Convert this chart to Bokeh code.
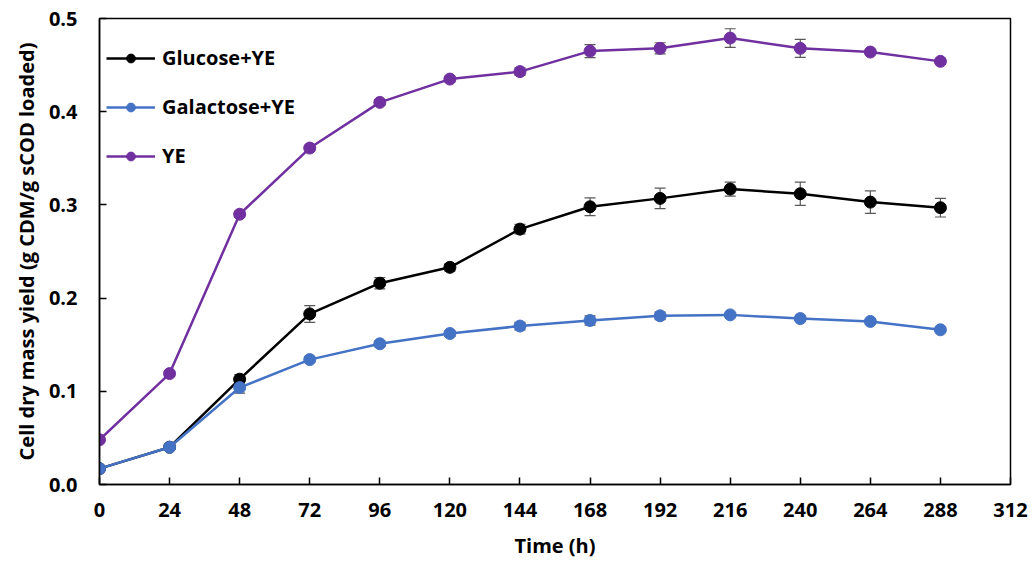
from bokeh.plotting import figure
from bokeh.models import ColumnDataSource, Whisker, TeeHead, Legend, LegendItem, FixedTicker, Range1d, CustomJSTickFormatter
from bokeh.embed import file_html
from bokeh.resources import INLINE

time_h = [0, 24, 48, 72, 96, 120, 144, 168, 192, 216, 240, 264, 288]
glucose_ye = [0.017, 0.040, 0.113, 0.183, 0.216, 0.233, 0.274, 0.298, 0.307, 0.317, 0.312, 0.303, 0.297]
glucose_err = [0.002, 0.003, 0.005, 0.009, 0.006, 0.004, 0.005, 0.0095, 0.011, 0.0075, 0.0125, 0.012, 0.010]
galactose_ye = [0.017, 0.040, 0.104, 0.134, 0.151, 0.162, 0.170, 0.176, 0.181, 0.182, 0.178, 0.175, 0.166]
galactose_err = [0.002, 0.003, 0.006, 0.003, 0.003, 0.003, 0.004, 0.005, 0.004, 0.002, 0.002, 0.002, 0.002]
ye_only = [0.048, 0.119, 0.290, 0.361, 0.410, 0.435, 0.443, 0.465, 0.468, 0.479, 0.468, 0.464, 0.454]
ye_err = [0.002, 0.003, 0.003, 0.003, 0.003, 0.003, 0.004, 0.007, 0.006, 0.010, 0.0097, 0.002, 0.002]
series_names = ["Glucose+YE", "Galactose+YE", "YE"]
x_ticks = [0, 24, 48, 72, 96, 120, 144, 168, 192, 216, 240, 264, 288, 312]
y_ticks = [0.0, 0.1, 0.2, 0.3, 0.4, 0.5]

FONT = "Open Sans"
FS = "20px"
colors = ["#000000", "#4472C4", "#7030A0"]

p = figure(width=1034, height=565, output_backend="svg", toolbar_location=None,
           x_range=Range1d(0, 312), y_range=Range1d(0, 0.5),
           min_border_left=99, min_border_right=24, min_border_top=18, min_border_bottom=81)
p.xgrid.visible = False
p.ygrid.visible = False
p.outline_line_color = "black"
p.outline_line_width = 1.5

for ax in (p.xaxis[0], p.yaxis[0]):
    ax.axis_line_color = "black"
    ax.axis_line_width = 1.5
    ax.major_tick_in = 7
    ax.major_tick_out = 0
    ax.major_tick_line_color = "black"
    ax.major_tick_line_width = 1.5
    ax.minor_tick_line_color = None
    ax.major_label_text_font = FONT
    ax.major_label_text_font_style = "bold"
    ax.major_label_text_font_size = FS
    ax.major_label_text_color = "black"
    ax.axis_label_text_font = FONT
    ax.axis_label_text_font_style = "bold"
    ax.axis_label_text_font_size = FS
    ax.axis_label_text_color = "black"

p.xaxis.ticker = FixedTicker(ticks=x_ticks)
p.yaxis.ticker = FixedTicker(ticks=y_ticks)
p.yaxis.formatter = CustomJSTickFormatter(code="return tick.toFixed(1);")
p.xaxis.major_label_standoff = 18
p.yaxis.major_label_standoff = 22
p.xaxis.axis_label = "Time (h)"
p.yaxis.axis_label = "Cell dry mass yield (g CDM/g sCOD loaded)"
p.xaxis.axis_label_standoff = 12
p.yaxis.axis_label_standoff = 6

items = []
for name, ys, errs, c in zip(series_names, [glucose_ye, galactose_ye, ye_only],
                             [glucose_err, galactose_err, ye_err], colors):
    src = ColumnDataSource(dict(x=time_h, y=ys,
                                upper=[a + b for a, b in zip(ys, errs)],
                                lower=[a - b for a, b in zip(ys, errs)]))
    w = Whisker(base="x", upper="upper", lower="lower", source=src,
                line_color="#595959", line_width=1.2,
                upper_head=TeeHead(size=11, line_color="#595959", line_width=1.2),
                lower_head=TeeHead(size=11, line_color="#595959", line_width=1.2))
    p.add_layout(w)
    l = p.line("x", "y", source=src, line_color=c, line_width=2.5)
    s = p.scatter("x", "y", source=src, size=12, fill_color=c, line_color=c)
    items.append(LegendItem(label=name, renderers=[l, s]))

legend = Legend(items=items, location=(0, 308), border_line_alpha=0,
                background_fill_alpha=0, padding=7, margin=0,
                glyph_width=49, glyph_height=22, label_height=22, spacing=22,
                label_standoff=7, label_text_font=FONT, label_text_font_style="bold",
                label_text_font_size=FS, label_text_color="black")
p.add_layout(legend)

open("out.html", "w").write(file_html(p, INLINE))
